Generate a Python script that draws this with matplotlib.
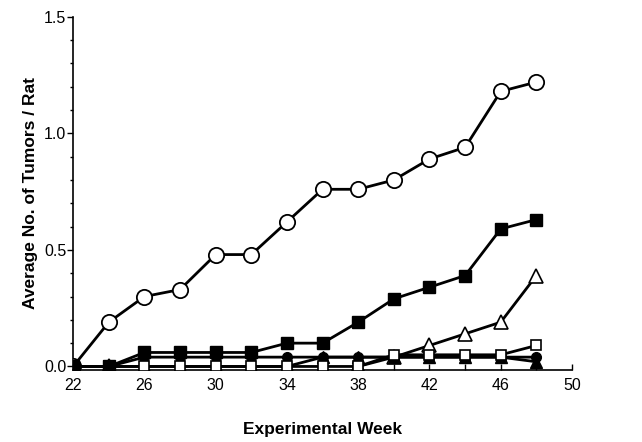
import matplotlib
matplotlib.use("Agg")
import matplotlib.pyplot as plt
from matplotlib.ticker import MultipleLocator

plt.rcParams['font.family'] = ['Liberation Sans', 'DejaVu Sans']

nan = float('nan')
weeks = [22, 24, 26, 28, 30, 32, 34, 36, 38, 40, 42, 44, 46, 48]
open_circles = [0, 0.19, 0.30, 0.33, 0.48, 0.48, 0.62, 0.76, 0.76, 0.80, 0.89, 0.94, 1.18, 1.22]
filled_squares = [0, 0, 0.06, 0.06, 0.06, 0.06, 0.10, 0.10, 0.19, 0.29, 0.34, 0.39, 0.59, 0.63]
open_triangles = [0, 0, nan, nan, nan, nan, nan, nan, 0, 0.04, 0.09, 0.14, 0.19, 0.39]
open_squares = [0, 0, 0, 0, 0, 0, 0, 0, 0, 0.05, 0.05, 0.05, 0.05, 0.09]
filled_circles = [0, 0, 0.04, 0.04, 0.04, 0.04, 0.04, 0.04, 0.04, 0.04, 0.04, 0.04, 0.04, 0.04]
filled_triangles = [0, 0, 0, 0, 0, 0, 0, 0.04, 0.04, 0.04, 0.04, 0.04, 0.04, 0.02]

x_ticks = [22, 26, 30, 34, 38, 42, 46, 50]
y_ticks = [0.0, 0.5, 1.0, 1.5]

fig = plt.figure(figsize=(6.42, 4.42), dpi=100)
ax = fig.add_axes([0.114, 0.163, 0.777, 0.799])

lw = 2.0
ax.plot(weeks, open_triangles, '-', color='black', lw=lw, marker='^', ms=10,
        mfc='white', mec='black', mew=1.2, zorder=3)
ax.plot(weeks, filled_triangles, '-', color='black', lw=lw, marker='^', ms=8,
        mfc='black', mec='black', zorder=3)
ax.plot(weeks, filled_circles, '-', color='black', lw=lw, marker='o', ms=7,
        mfc='black', mec='black', zorder=4)
ax.plot(weeks, open_squares, '-', color='black', lw=lw, marker='s', ms=7,
        mfc='white', mec='black', mew=1.2, zorder=5)
ax.plot(weeks, open_circles, '-', color='black', lw=lw, marker='o', ms=11,
        mfc='white', mec='black', mew=1.3, zorder=5)
ax.plot(weeks, filled_squares, '-', color='black', lw=lw, marker='s', ms=8.5,
        mfc='black', mec='black', zorder=7)

ax.set_xlim(22, 50)
ax.set_ylim(-0.015, 1.5)
ax.set_xticks(x_ticks)
ax.xaxis.set_minor_locator(MultipleLocator(2))
ax.set_yticks(y_ticks)
ax.set_yticklabels([f"{v:.1f}" for v in y_ticks])
ax.yaxis.set_minor_locator(MultipleLocator(0.1))

for s in ['top', 'right']:
    ax.spines[s].set_visible(False)
for s in ['left', 'bottom']:
    ax.spines[s].set_linewidth(1.2)

ax.tick_params(axis='y', which='major', direction='out', length=4, width=1, labelsize=11.5, pad=1)
ax.tick_params(axis='y', which='minor', direction='out', length=2.5, width=1)
ax.tick_params(axis='x', which='major', direction='in', length=4, width=1, labelsize=11.5, pad=6)
ax.tick_params(axis='x', which='minor', direction='in', length=4, width=1)

ax.set_xlabel('Experimental Week', fontsize=12.5, fontweight='bold', labelpad=21)
ax.set_ylabel('Average No. of Tumors / Rat', fontsize=12.5, fontweight='bold', labelpad=4)

fig.savefig('out.png', dpi=100)
